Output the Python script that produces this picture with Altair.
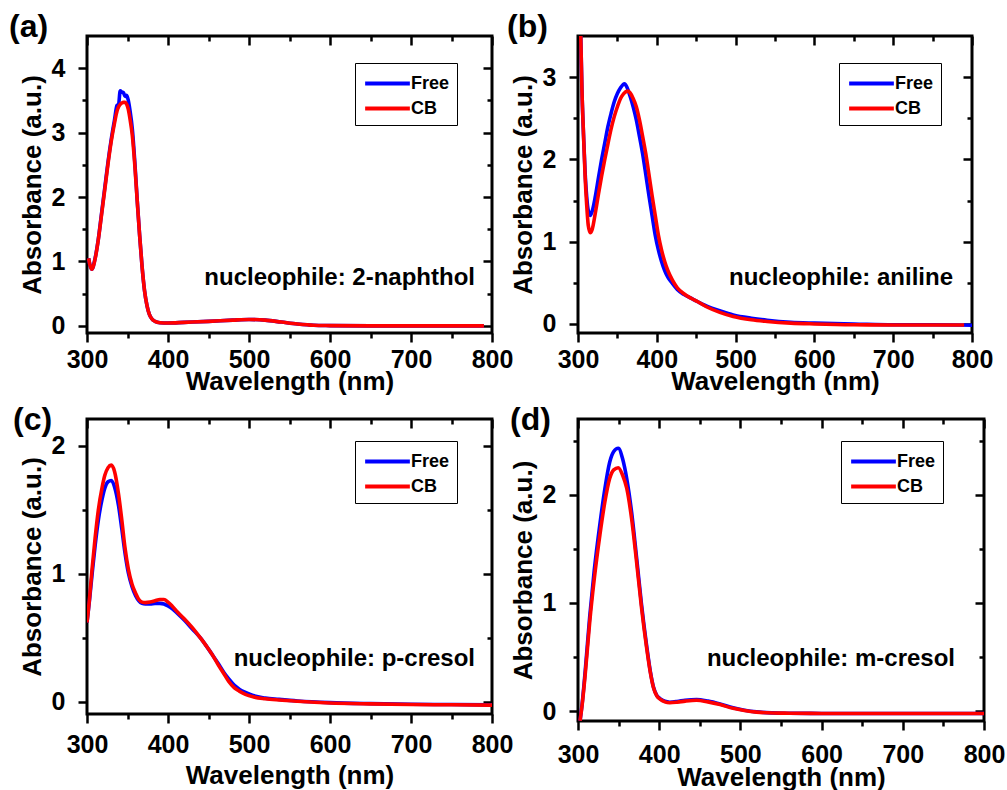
import altair as alt
import pandas as pd

FONT = "Liberation Sans"
SERIES = ["Free", "CB"]
COLORS = ["#0000ff", "#ff0000"]
X_MAJOR = [300, 400, 500, 600, 700, 800]
X_MINOR = [350, 450, 550, 650, 750]

# ---------------- (a) nucleophile: 2-naphthol ----------------
a_wl = [302, 304, 306, 310, 314, 318, 322, 326, 330, 334, 337, 339, 341, 343, 345,
        347, 349, 351, 353, 356, 359, 362, 365, 368, 371, 374, 377, 380, 384, 390,
        400, 420, 450, 480, 500, 520, 540, 560, 580, 600, 650, 700, 750, 790]
a_free = [1.05, 0.93, 0.88, 1.05, 1.35, 1.75, 2.15, 2.55, 2.9, 3.2, 3.42, 3.44, 3.65, 3.63, 3.62,
          3.56, 3.58, 3.5, 3.35, 3.05, 2.55, 1.95, 1.4, 0.92, 0.55, 0.32, 0.18, 0.11, 0.07, 0.05,
          0.045, 0.055, 0.07, 0.09, 0.1, 0.09, 0.06, 0.03, 0.01, 0.005, 0.0, 0.0, 0.0, 0.0]
a_cb = [1.05, 0.93, 0.88, 1.04, 1.34, 1.73, 2.12, 2.52, 2.87, 3.15, 3.33, 3.4, 3.44, 3.46, 3.47,
        3.47, 3.44, 3.36, 3.22, 2.95, 2.5, 1.94, 1.4, 0.92, 0.55, 0.32, 0.18, 0.11, 0.07, 0.05,
        0.045, 0.055, 0.07, 0.09, 0.1, 0.09, 0.06, 0.03, 0.01, 0.005, 0.0, 0.0, 0.0, 0.0]

# ---------------- (b) nucleophile: aniline ----------------
b_free_wl = [303.5, 305, 307, 309, 311, 313, 315.5, 318, 322, 326, 330, 334, 338, 342, 346,
             350, 354, 359, 362, 366, 370, 374, 378, 382, 386, 390, 394, 398, 402, 406, 410,
             414, 420, 426, 434, 444, 452, 465, 480, 497, 520, 540, 570, 600, 650, 700, 750, 800]
b_free = [3.5, 2.85, 2.3, 1.85, 1.55, 1.38, 1.32, 1.37, 1.55, 1.78, 2.0, 2.2, 2.4, 2.56, 2.7,
          2.8, 2.87, 2.92, 2.88, 2.77, 2.64, 2.48, 2.28, 2.07, 1.82, 1.56, 1.32, 1.08, 0.9, 0.76, 0.65,
          0.57, 0.49, 0.42, 0.36, 0.31, 0.27, 0.21, 0.16, 0.11, 0.07, 0.045, 0.02, 0.01, 0.0, -0.01, -0.01, -0.015]
b_cb_wl = [303.5, 305, 307, 309, 311, 313, 315.5, 318, 322, 326, 330, 334, 338, 342, 346,
           350, 354, 358, 363, 366, 370, 374, 378, 382, 386, 390, 394, 398, 402, 406, 410,
           414, 420, 426, 434, 444, 452, 465, 480, 497, 520, 540, 570, 600, 650, 700, 750, 790]
b_cb = [3.5, 2.85, 2.3, 1.8, 1.45, 1.2, 1.11, 1.15, 1.35, 1.58, 1.8, 2.0, 2.19, 2.37, 2.52,
        2.64, 2.74, 2.8, 2.83, 2.81, 2.74, 2.64, 2.48, 2.28, 2.07, 1.82, 1.56, 1.32, 1.08, 0.9, 0.76,
        0.65, 0.53, 0.44, 0.37, 0.31, 0.27, 0.2, 0.14, 0.09, 0.05, 0.03, 0.01, 0.0, -0.01, -0.012, -0.012, -0.012]

# ---------------- (c) nucleophile: p-cresol ----------------
c_wl = [300, 303, 306, 310, 314, 318.5, 322, 326, 330, 334, 339, 343, 347, 351, 355.6, 360,
        364, 368, 372, 378, 384, 390, 395, 400, 405, 412, 420, 430, 440, 447, 454.6, 462,
        469, 475, 482, 488, 495.6, 505, 520, 537, 560, 600, 650, 700, 750, 800]
c_free = [0.62, 0.79, 0.98, 1.22, 1.42, 1.58, 1.67, 1.72, 1.73, 1.68, 1.53, 1.35, 1.16, 1.01, 0.9, 0.83,
          0.79, 0.77, 0.765, 0.765, 0.77, 0.77, 0.765, 0.75, 0.73, 0.69, 0.64, 0.57, 0.5, 0.44, 0.37, 0.3,
          0.23, 0.18, 0.13, 0.1, 0.075, 0.05, 0.03, 0.02, 0.008, -0.005, -0.013, -0.018, -0.02, -0.023]
c_cb = [0.62, 0.8, 1.02, 1.28, 1.5, 1.67, 1.77, 1.83, 1.85, 1.8, 1.62, 1.42, 1.2, 1.04, 0.92, 0.85,
        0.8, 0.78, 0.776, 0.78, 0.79, 0.8, 0.8, 0.78, 0.75, 0.7, 0.65, 0.58, 0.5, 0.44, 0.37, 0.29,
        0.22, 0.16, 0.11, 0.085, 0.06, 0.04, 0.025, 0.015, 0.005, -0.008, -0.015, -0.02, -0.022, -0.025]

# ---------------- (d) nucleophile: m-cresol ----------------
d_wl = [302.5, 305, 309, 314.5, 320, 327, 333, 339, 344, 349.6, 355, 360, 366, 372, 378, 384.6,
        389, 393, 397, 401, 407, 413, 422, 432, 446, 460, 475, 491, 505, 520, 540, 560, 600, 700, 800]
d_free = [-0.09, 0.06, 0.38, 0.88, 1.3, 1.73, 2.05, 2.3, 2.4, 2.43, 2.33, 2.15, 1.84, 1.43, 1.0, 0.6,
          0.37, 0.22, 0.145, 0.115, 0.09, 0.082, 0.088, 0.1, 0.107, 0.092, 0.065, 0.03, 0.008, -0.008,
          -0.017, -0.02, -0.022, -0.022, -0.022]
d_cb = [-0.09, 0.05, 0.35, 0.83, 1.22, 1.63, 1.93, 2.15, 2.23, 2.25, 2.18, 2.06, 1.78, 1.39, 0.97, 0.58,
        0.36, 0.215, 0.14, 0.11, 0.085, 0.077, 0.082, 0.092, 0.1, 0.085, 0.06, 0.025, 0.005, -0.01,
        -0.018, -0.02, -0.022, -0.022, -0.022]


def frame(wl, vals, name):
    return pd.DataFrame({"wavelength": wl, "absorbance": vals, "series": name})


def panel(tag, note, fw, fa, cw, ca, ydom, w, h, note_right, note_y,
          leg_right, leg_top, tag_x, tag_y, xlab_pad, xtitle_pad):
    df_f = frame(fw, fa, "Free")
    df_c = frame(cw, ca, "CB")
    ymaj = [float(v) for v in range(0, int(ydom[1]) + 1)]
    ymin = [v + 0.5 for v in ymaj if v + 0.5 < ydom[1] - 0.05]
    xs = alt.Scale(domain=[300, 800], nice=False, zero=False)
    ys = alt.Scale(domain=ydom, nice=False, zero=False)
    legend = alt.Legend(
        title=None, orient="none", legendX=w - leg_right - 110, legendY=leg_top,
        strokeColor="black", padding=7, symbolType="M-2,0H2", symbolSize=500,
        symbolStrokeWidth=4, symbolOffset=12, labelOffset=10, rowPadding=2,
        labelFont=FONT, labelFontSize=18, labelFontWeight="bold", labelColor="black",
    )
    color = alt.Color("series:N", scale=alt.Scale(domain=SERIES, range=COLORS), legend=legend)

    def ax(orient, values, size, labels=False, title=None, offset=0, **extra):
        return alt.Axis(orient=orient, values=values, tickSize=size, labels=labels,
                        domain=False, grid=False, ticks=True, offset=offset, title=title,
                        labelFlush=False, labelOverlap=False, **extra)

    line_kw = dict(strokeWidth=3.6, clip=True, interpolate="monotone")
    free = alt.Chart(df_f).mark_line(**line_kw).encode(
        x=alt.X("wavelength:Q", scale=xs,
                axis=ax("bottom", X_MAJOR, 9, labels=True, title="Wavelength (nm)",
                        labelPadding=xlab_pad, titlePadding=xtitle_pad)),
        y=alt.Y("absorbance:Q", scale=ys,
                axis=ax("left", ymaj, 9, labels=True, title="Absorbance (a.u.)",
                        labelPadding=13, titlePadding=6)),
        color=color,
    )
    minor_out = alt.Chart(df_f).mark_line(opacity=0).encode(
        x=alt.X("wavelength:Q", scale=xs, axis=ax("bottom", X_MINOR, 5)),
        y=alt.Y("absorbance:Q", scale=ys, axis=ax("left", ymin, 5)),
    )
    cb = alt.Chart(df_c).mark_line(**line_kw).encode(
        x=alt.X("wavelength:Q", scale=xs, axis=ax("top", X_MAJOR, 9, offset=-9)),
        y=alt.Y("absorbance:Q", scale=ys, axis=ax("right", ymaj, 9, offset=-9)),
        color=color,
    )
    minor_in = alt.Chart(df_c).mark_line(opacity=0).encode(
        x=alt.X("wavelength:Q", scale=xs, axis=ax("top", X_MINOR, 5, offset=-5)),
        y=alt.Y("absorbance:Q", scale=ys, axis=ax("right", ymin, 5, offset=-5)),
    )
    note_c = alt.Chart(pd.DataFrame({"t": [note]})).mark_text(
        align="right", baseline="middle", font=FONT, fontSize=24, fontWeight="bold", color="black"
    ).encode(x=alt.value(w - note_right), y=alt.value(note_y), text="t:N")
    tag_c = alt.Chart(pd.DataFrame({"t": [tag]})).mark_text(
        align="left", baseline="middle", font=FONT, fontSize=32, fontWeight="bold", color="black"
    ).encode(x=alt.value(tag_x), y=alt.value(tag_y), text="t:N")
    return alt.layer(free, minor_out, cb, minor_in, note_c, tag_c).resolve_axis(
        x="independent", y="independent"
    ).properties(width=w, height=h)


pa = panel("(a)", "nucleophile: 2-naphthol", a_wl, a_free, a_wl, a_cb, [-0.11, 4.5],
           405, 297, 17, 242, 27, 27, -78, -9, 5, -4)
pb = panel("(b)", "nucleophile: aniline", b_free_wl, b_free, b_cb_wl, b_cb, [-0.11, 3.5],
           394, 297, 19, 242, 23, 27, -71, -9, 5, -4)
pc = panel("(c)", "nucleophile: p-cresol", c_wl, c_free, c_wl, c_cb, [-0.094, 2.21],
           405, 295, 17, 240, 27, 22, -74, 1, 9, 5)
pd_ = panel("(d)", "nucleophile: m-cresol", d_wl, d_free, d_wl, d_cb, [-0.092, 2.7],
            406, 302, 29, 240, 33, 22, -68, 1, 12, -3)

chart = alt.concat(
    pa, pb, pc, pd_, columns=2, bounds="flush", spacing={"row": 86, "column": 86}
).resolve_scale(
    color="independent"
).properties(
    padding={"left": 7, "top": 9, "right": 0, "bottom": 0}
).configure_view(
    stroke="black", strokeWidth=3
).configure_axis(
    labelFont=FONT, labelFontSize=25, labelFontWeight="bold", labelColor="black",
    titleFont=FONT, titleFontSize=26, titleFontWeight="bold", titleColor="black",
    tickColor="black", tickWidth=2.5,
)

chart.save("out.html", embed_options={"renderer": "svg", "actions": False})
